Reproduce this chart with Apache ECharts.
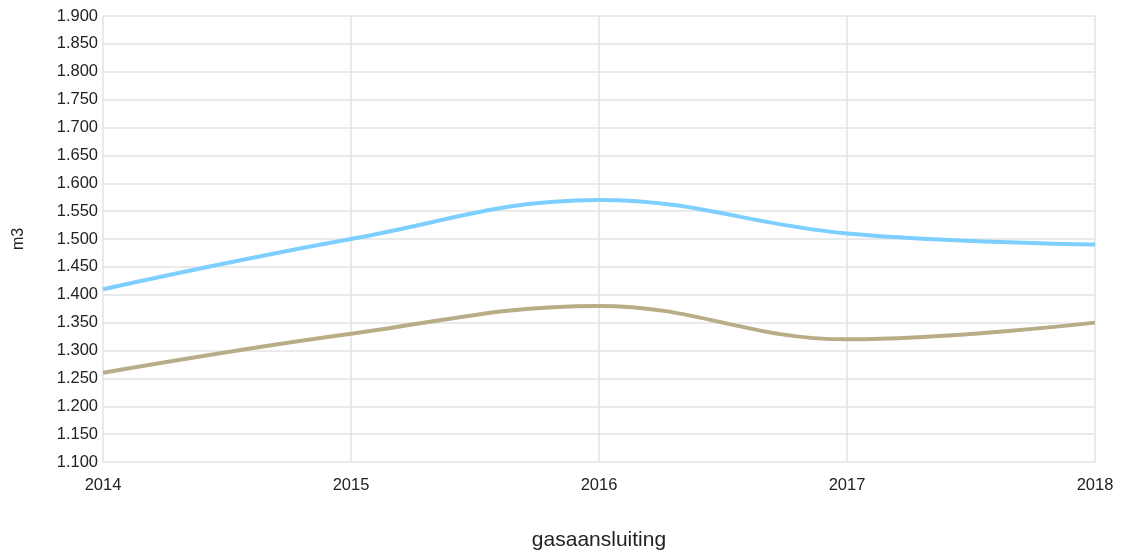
<!DOCTYPE html>
<html>
<head>
<meta charset="utf-8">
<script src="https://cdn.jsdelivr.net/npm/echarts@6/dist/echarts.min.js"></script>
<style>
  html, body { margin: 0; padding: 0; background: #fff; }
  #chart { width: 1125px; height: 556px; }
</style>
</head>
<body>
<div id="chart"></div>
<script>
// data
const years = ["2014", "2015", "2016", "2017", "2018"];
const seriesBlue = [1410, 1500, 1570, 1510, 1490];
const seriesOlive = [1260, 1330, 1380, 1320, 1350];

const chart = echarts.init(document.getElementById("chart"));

const font = "Liberation Sans, Arial, sans-serif";
const labelFont = { fontFamily: font, fontSize: 16.5, color: "#222" };

chart.setOption({
  animation: false,
  grid: { left: 103, right: 30, top: 16, bottom: 93 },
  xAxis: {
    type: "category",
    data: years,
    boundaryGap: false,
    name: "gasaansluiting",
    nameLocation: "middle",
    nameGap: 68,
    nameTextStyle: { fontFamily: font, fontSize: 21, color: "#222" },
    axisLine: { show: false },
    axisTick: { show: false },
    axisLabel: { ...labelFont, margin: 15 },
    splitLine: { show: true, lineStyle: { color: "#e3e3e3", width: 1.5 } },
  },
  yAxis: {
    type: "value",
    min: 1100,
    max: 1900,
    interval: 50,
    name: "m3",
    nameLocation: "middle",
    nameGap: 76,
    nameRotate: 90,
    nameTextStyle: { fontFamily: font, fontSize: 16, color: "#222" },
    axisLine: { show: false },
    axisTick: { show: false },
    axisLabel: {
      ...labelFont,
      margin: 5,
      formatter: (v) => (v / 1000).toFixed(3),
    },
    splitLine: { show: true, lineStyle: { color: "#e3e3e3", width: 1.5 } },
  },
  series: [
    {
      type: "line",
      data: seriesBlue,
      smooth: 0.4,
      showSymbol: false,
      lineStyle: { color: "#7ccfff", width: 4 },
    },
    {
      type: "line",
      data: seriesOlive,
      smooth: 0.4,
      showSymbol: false,
      lineStyle: { color: "#b8ad86", width: 4 },
    },
  ],
});
</script>
</body>
</html>
